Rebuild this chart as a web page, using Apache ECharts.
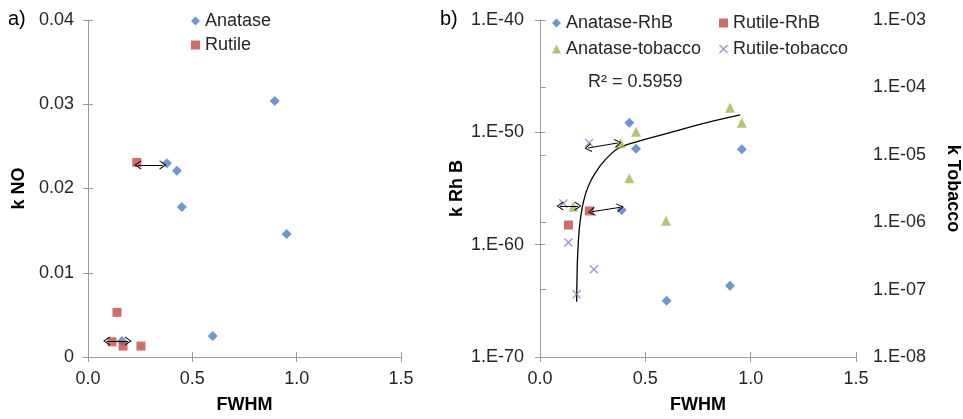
<!DOCTYPE html>
<html>
<head>
<meta charset="utf-8">
<script src="https://cdn.jsdelivr.net/npm/echarts@6/dist/echarts.min.js"></script>
<style>
html, body { margin: 0; padding: 0; background: #fff; }
#main { width: 963px; height: 419px; }
</style>
</head>
<body>
<div id="main"></div>
<script>
// panel a) k NO vs FWHM
const anataseNO = [[0.895, 0.0304], [0.378, 0.0230], [0.426, 0.0221], [0.450, 0.0178], [0.952, 0.0146], [0.598, 0.0025], [0.163, 0.0019]];
const rutileNO = [[0.234, 0.0231], [0.139, 0.0053], [0.115, 0.0018], [0.168, 0.0013], [0.254, 0.0013]];
const arrowsNO = [[[0.239, 0.0228], [0.359, 0.0228]], [[0.089, 0.0019], [0.193, 0.0019]]];

// panel b) k RhB (left axis) and k tobacco (right axis)
const anataseRhB = [[0.424, 7e-50], [0.456, 3.5e-52], [0.388, 1.2e-57], [0.601, 1e-65], [0.902, 2.2e-64], [0.958, 3.2e-52]];
const rutileRhB = [[0.234, 1e-57], [0.135, 5.6e-59]];
const anataseTob = [[0.456, 2.2e-5], [0.383, 1.48e-5], [0.424, 4.5e-6], [0.158, 1.7e-6], [0.902, 5e-5], [0.958, 3e-5], [0.598, 1.05e-6]];
const rutileTob = [[0.233, 1.5e-5], [0.111, 1.9e-6], [0.135, 5e-7], [0.256, 2e-7], [0.174, 8.5e-8]];
// trendline
const trendTob = [[0.174, 6.6e-8], [0.177, 2.3e-7], [0.182, 5.1e-7], [0.190, 1.0e-6], [0.206, 2.0e-6], [0.229, 3.4e-6], [0.261, 5.3e-6], [0.309, 8.4e-6], [0.372, 1.25e-5], [0.461, 1.57e-5], [0.594, 2.04e-5], [0.792, 3.0e-5], [0.950, 3.9e-5]];
const arrowsTob = [[[0.228, 1.26e-5], [0.370, 1.5e-5]], [[0.095, 1.74e-6], [0.180, 1.74e-6]]];
const arrowsRhB = [[[0.245, 8.5e-58], [0.380, 2.1e-57]]];

const FONT = 'Liberation Sans';
const AXIS_COLOR = '#9a9a9a';
const TXT = '#262626';
const BLUE = '#4a7ebb', RED = '#be4b48', GREEN = '#98b954', PURPLE = '#8a72b0';
const X_SYMBOL = 'path://M1,0 L5,4 L9,0 L10,1 L6,5 L10,9 L9,10 L5,6 L1,10 L0,9 L4,5 L0,1 Z';
const HEAD = 'path://M0,10 L5,0 L10,10 L9,10.6 L5,2.4 L1,10.6 Z';

// RhB values span 1E-70..1E-40, too small for echarts' log scale rounding,
// so that axis works on the decimal exponent instead
const toExp = pts => pts.map(p => [p[0], Math.log10(p[1])]);

function expLabel(e) {
  const a = Math.abs(e);
  return '1.E' + (e < 0 ? '-' : '+') + (a < 10 ? '0' + a : a);
}
const logLabel = v => expLabel(Math.round(Math.log10(v)));

function arrowLines(list) {
  return {
    silent: true,
    animation: false,
    symbol: [HEAD, HEAD],
    symbolSize: [9, 7],
    label: { show: false },
    lineStyle: { color: '#000', width: 1, type: 'solid' },
    emphasis: { disabled: true },
    data: list.map(p => [{ coord: p[0] }, { coord: p[1] }])
  };
}

const lbl = { fontFamily: FONT, fontSize: 18, color: TXT };
const nameStyle = { fontFamily: FONT, fontSize: 18, fontWeight: 'bold', color: '#000' };

function xAx(grid) {
  return {
    gridIndex: grid, type: 'value', min: 0, max: 1.5, interval: 0.5, position: 'bottom',
    axisLine: { lineStyle: { color: AXIS_COLOR, width: 1 } },
    axisTick: { show: true, length: 5, lineStyle: { color: AXIS_COLOR } },
    splitLine: { show: false },
    axisLabel: Object.assign({ margin: 13, formatter: v => v.toFixed(1) }, lbl),
    name: 'FWHM', nameLocation: 'middle', nameGap: 39, nameTextStyle: nameStyle
  };
}
// extra axes that only draw the inner half of the crossing ticks
function innerTicks(base) {
  return Object.assign({}, base, {
    name: '', axisLine: { show: false }, axisLabel: { show: false },
    axisTick: { show: true, inside: true, length: 5, lineStyle: { color: AXIS_COLOR } }
  });
}

const xA = xAx(0);
const xB = xAx(1);
const yA = {
  gridIndex: 0, type: 'value', min: 0, max: 0.04, interval: 0.01, position: 'left',
  axisLine: { show: true, lineStyle: { color: AXIS_COLOR, width: 1 } },
  axisTick: { show: true, length: 5, lineStyle: { color: AXIS_COLOR } },
  splitLine: { show: false },
  axisLabel: Object.assign({ margin: 14, formatter: v => v === 0 ? '0' : v.toFixed(2) }, lbl),
  name: 'k NO', nameLocation: 'middle', nameGap: 60, nameRotate: 90, nameTextStyle: nameStyle
};
const yRhB = {
  gridIndex: 1, type: 'value', min: -70, max: -40, interval: 10, position: 'left',
  axisLine: { show: true, lineStyle: { color: AXIS_COLOR, width: 1 } },
  axisTick: { show: true, length: 5, lineStyle: { color: AXIS_COLOR } },
  splitLine: { show: false },
  axisLabel: Object.assign({ margin: 16, formatter: expLabel }, lbl),
  name: 'k Rh B', nameLocation: 'middle', nameGap: 74, nameRotate: 90, nameTextStyle: nameStyle
};
const yTob = {
  gridIndex: 1, type: 'log', logBase: 10, min: 1e-8, max: 1e-3, position: 'right',
  axisLine: { show: true, lineStyle: { color: AXIS_COLOR, width: 1 } },
  axisTick: { show: true, length: 6, lineStyle: { color: AXIS_COLOR } },
  splitLine: { show: false }, minorTick: { show: false },
  axisLabel: Object.assign({ margin: 17, formatter: logLabel }, lbl),
  name: 'k Tobacco', nameLocation: 'middle', nameGap: 88, nameRotate: -90, nameTextStyle: nameStyle
};

function scatter(name, data, xi, yi, symbol, size, color, extra) {
  return Object.assign({
    name: name, type: 'scatter', xAxisIndex: xi, yAxisIndex: yi, data: data,
    symbol: symbol, symbolSize: size, itemStyle: { color: color }, z: 3
  }, extra || {});
}

const legendText = { fontFamily: FONT, fontSize: 18, color: TXT };

const chart = echarts.init(document.getElementById('main'));
chart.setOption({
  animation: false,
  grid: [
    { left: 88, right: 562, top: 20, bottom: 62 },
    { left: 540, right: 107, top: 20, bottom: 62 }
  ],
  xAxis: [xA, xB, innerTicks(xA), innerTicks(xB)],
  yAxis: [yA, yRhB, yTob, innerTicks(yA), innerTicks(yRhB)],
  legend: [
    { orient: 'vertical', left: 186, top: 7, itemWidth: 9, itemHeight: 9, itemGap: 6, textStyle: legendText,
      data: [{ name: 'Anatase', icon: 'diamond' }, { name: 'Rutile', icon: 'rect' }] },
    { orient: 'vertical', left: 547, top: 9, itemWidth: 9, itemHeight: 9, itemGap: 8, textStyle: legendText,
      data: [{ name: 'Anatase-RhB', icon: 'diamond' }, { name: 'Anatase-tobacco', icon: 'triangle' }] },
    { orient: 'vertical', left: 714, top: 9, itemWidth: 9, itemHeight: 9, itemGap: 8, textStyle: legendText,
      data: [{ name: 'Rutile-RhB', icon: 'rect' }, { name: 'Rutile-tobacco', icon: X_SYMBOL }] }
  ],
  graphic: [
    { type: 'text', left: 8, top: 9, style: { text: 'a)', font: '20px "Liberation Sans"', fill: '#000' } },
    { type: 'text', left: 440, top: 9, style: { text: 'b)', font: '20px "Liberation Sans"', fill: '#000' } },
    { type: 'text', left: 588, top: 73, style: { text: 'R² = 0.5959', font: '18px "Liberation Sans"', fill: TXT } }
  ],
  series: [
    scatter('Anatase', anataseNO, 0, 0, 'diamond', 10, BLUE),
    scatter('Rutile', rutileNO, 0, 0, 'rect', 9, RED, { markLine: arrowLines(arrowsNO) }),
    scatter('Anatase-RhB', toExp(anataseRhB), 1, 1, 'diamond', 10, BLUE),
    scatter('Rutile-RhB', toExp(rutileRhB), 1, 1, 'rect', 9, RED, { markLine: arrowLines(arrowsRhB.map(toExp)) }),
    scatter('Anatase-tobacco', anataseTob, 1, 2, 'triangle', 10, GREEN, { markLine: arrowLines(arrowsTob) }),
    scatter('Rutile-tobacco', rutileTob, 1, 2, X_SYMBOL, 9, PURPLE),
    {
      name: 'trend', type: 'line', xAxisIndex: 1, yAxisIndex: 2, data: trendTob,
      smooth: 0.3, symbol: 'none', silent: true, z: 2,
      lineStyle: { color: '#000', width: 1.3 }
    }
  ]
});
</script>
</body>
</html>
